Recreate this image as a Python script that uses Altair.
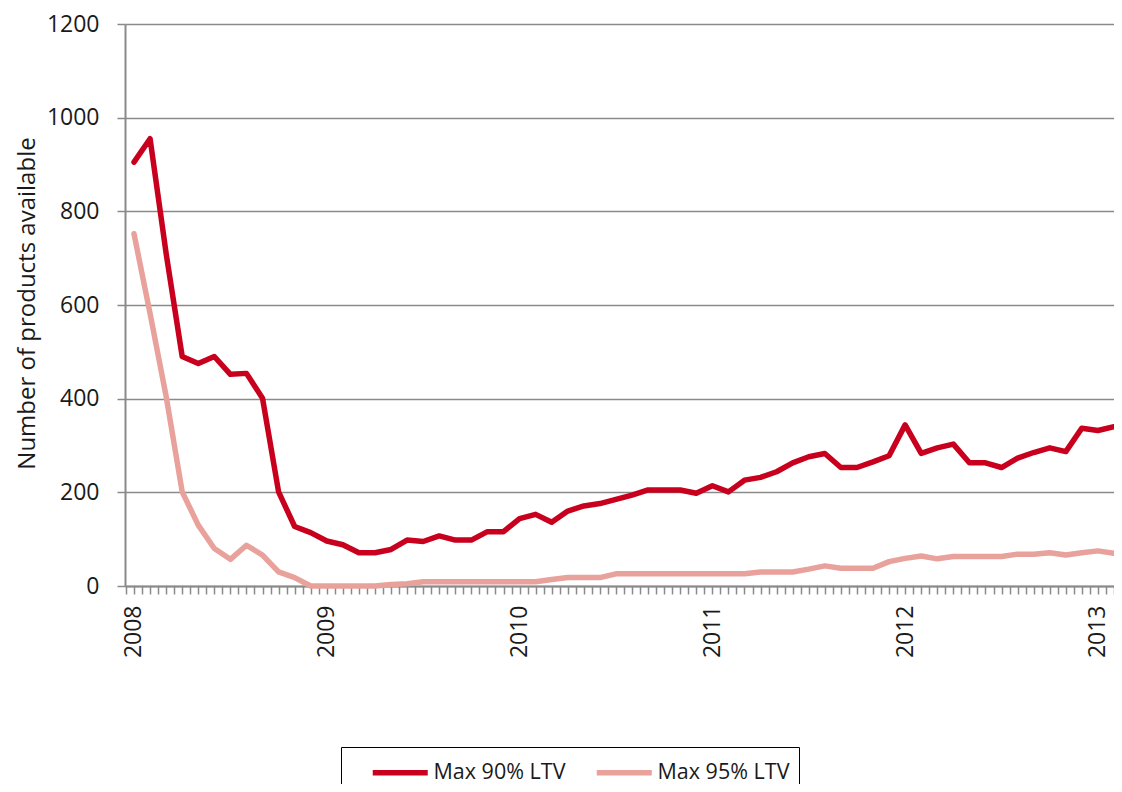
import altair as alt
import pandas as pd

# Monthly observations, Jan 2008 .. Feb 2013 (index 0 = Jan 2008)
max90 = [905, 955, 710, 490, 475, 490, 452, 454, 401, 201, 127, 114,
         96, 88, 71, 71, 78, 98, 95, 107, 98, 98, 116, 116,
         144, 153, 136, 160, 171, 176, 185, 194, 205, 205, 205, 198,
         214, 201, 226, 232, 244, 263, 276, 283, 253, 253, 265, 278,
         344, 283, 295, 303, 263, 263, 253, 273, 285, 295, 287, 337,
         332, 340]
max95 = [752, 582, 405, 201, 130, 80, 57, 87, 66, 30, 18, 0,
         0, 0, 0, 0, 3, 5, 9, 9, 9, 9, 9, 9,
         9, 9, 14, 18, 18, 18, 26, 26, 26, 26, 26, 26,
         26, 26, 26, 30, 30, 30, 36, 43, 38, 38, 38, 52,
         59, 64, 58, 63, 63, 63, 63, 68, 68, 71, 66, 71,
         75, 70]
series_names = ["Max 90% LTV", "Max 95% LTV"]
series_colors = ["#C8001E", "#E8A19B"]
year_start = 2008

rows = []
for name, vals in zip(series_names, [max90, max95]):
    for i, v in enumerate(vals):
        rows.append({"idx": i, "value": v, "series": name})
df = pd.DataFrame(rows)

n = len(max90)
tick_vals = [k / 2 for k in range(-1, 2 * n)]

font = "Open Sans"
grey = "#8a8a8a"
fs = 23

chart = alt.Chart(df).mark_line(strokeWidth=5.5, strokeCap="round", strokeJoin="round").encode(
    x=alt.X("idx:Q",
            scale=alt.Scale(domain=[-0.56, n - 1.0], nice=False, zero=False),
            axis=alt.Axis(title=None, values=tick_vals,
                          labelExpr=f"datum.value % 12 == 0 ? '' + ({year_start} + datum.value / 12) : ''",
                          labelAngle=-90, labelOverlap=False, labelFlush=False,
                          labelFontSize=fs, labelFont=font, labelColor="#1a1a1a",
                          labelPadding=11, tickSize=8, tickColor=grey, tickWidth=1.5,
                          domainColor=grey, domainWidth=2, grid=False)),
    y=alt.Y("value:Q",
            scale=alt.Scale(domain=[0, 1200], nice=False),
            axis=alt.Axis(title="Number of products available", values=list(range(0, 1201, 200)),
                          format="d",
                          labelFontSize=fs, labelFont=font, labelColor="#1a1a1a",
                          labelPadding=18, tickSize=8, tickColor=grey, tickWidth=1.5,
                          domainColor=grey, domainWidth=2,
                          grid=True, gridColor=grey, gridWidth=1.5,
                          titleFont=font, titleFontSize=24, titleFontWeight="normal",
                          titleColor="#1a1a1a", titleX=-98, titleY=279,
                          titleAngle=270, titleAlign="center", titleBaseline="middle")),
    color=alt.Color("series:N",
                    scale=alt.Scale(domain=series_names, range=series_colors),
                    legend=alt.Legend(title=None, orient="none", direction="horizontal",
                                      legendX=216, legendY=723,
                                      symbolType="M-2,0H2", symbolSize=756,
                                      symbolStrokeWidth=5.5, labelFontSize=21.5,
                                      labelFont=font, labelColor="#1a1a1a",
                                      labelOffset=16.75, columnPadding=8,
                                      padding=9, symbolOffset=33.75,
                                      strokeColor="#000000")),
).properties(
    width=989, height=562,
    autosize=alt.AutoSizeParams(type="none"),
    padding={"left": 117, "top": 16, "right": 0, "bottom": 198},
).configure_view(stroke=None)

chart.save("out.html", embed_options={"renderer": "svg", "actions": False})
